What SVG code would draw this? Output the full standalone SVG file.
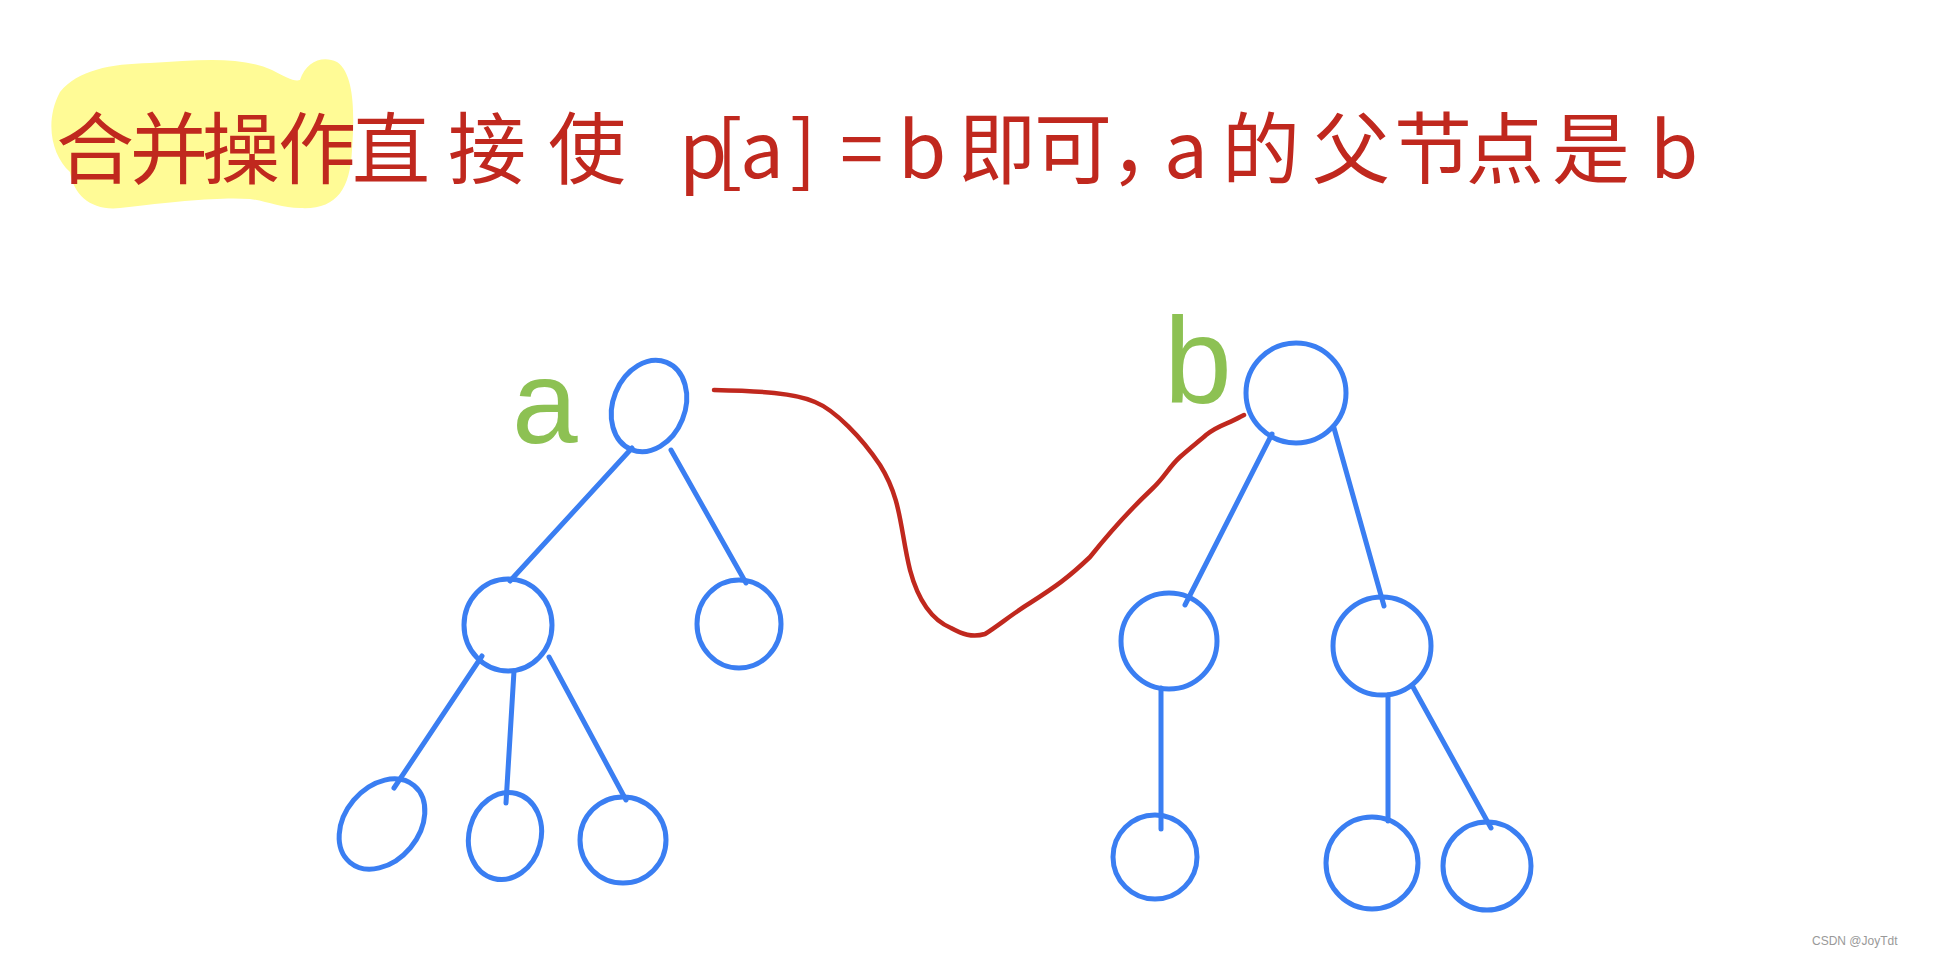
<svg xmlns="http://www.w3.org/2000/svg" width="1937" height="957" viewBox="0 0 1937 957">
<style>
.nd{fill:none;stroke:#3a7ef2;stroke-width:5}
.ed{stroke:#3a7ef2;stroke-width:5;stroke-linecap:round;fill:none}
.lbl{fill:#8dc153;font-family:"Liberation Sans",sans-serif}
.title{fill:#c0281e;font-family:"Noto Sans CJK SC","Noto Sans",sans-serif;font-size:78px}
</style>
<rect width="1937" height="957" fill="#ffffff"/>
<g id="title">
<path d="M60,92 C78,70 110,64 150,63 C200,60 240,56 272,70 C286,77 294,82 300,80 C306,62 322,55 337,62 C356,75 354,120 352,150 C350,190 336,210 300,208 C282,208 266,201 250,199 C220,197 180,201 120,208 C92,211 74,196 70,172 C52,156 44,122 60,92 Z" fill="#fffb96"/>
<text class="title" x="56 130 202 278 352 448 548 679 716 740 790 840 898 958 1034 1110 1164 1222 1312 1394 1466 1552 1650" y="178">合并操作直接使p[a]=b即可，a的父节点是b</text>
</g>
<g id="connectors">
<line class="ed" x1="632" y1="448" x2="510" y2="581"/>
<line class="ed" x1="671" y1="450" x2="746" y2="583"/>
<line class="ed" x1="482" y1="656" x2="394" y2="788"/>
<line class="ed" x1="514" y1="671" x2="506" y2="803"/>
<line class="ed" x1="549" y1="657" x2="626" y2="800"/>
<line class="ed" x1="1272" y1="434" x2="1185" y2="605"/>
<line class="ed" x1="1334" y1="428" x2="1384" y2="606"/>
<line class="ed" x1="1161" y1="688" x2="1161" y2="829"/>
<line class="ed" x1="1388" y1="695" x2="1388" y2="821"/>
<line class="ed" x1="1413" y1="687" x2="1491" y2="828"/>
<path id="merge" d="M714,390 C760,391 795,393 815,402 C835,410 862,438 880,465 C902,500 900,530 910,570 C918,600 932,620 951,628 C962,634 972,638 985,634 C998,626 1012,614 1030,603 C1055,587 1068,578 1090,557 C1110,532 1135,505 1152,489 C1165,477 1168,468 1180,457 C1190,448 1198,442 1206,435 C1218,425 1228,424 1240,417 L1244,415" fill="none" stroke="#c0281e" stroke-width="4.5" stroke-linecap="round"/>
</g>
<g id="node-a">
<ellipse class="nd" cx="649" cy="406" rx="36" ry="47" transform="rotate(22 649 406)"/>
<text class="lbl" x="512" y="443" font-size="118">a</text>
</g>
<g id="node-a1"><ellipse class="nd" cx="508" cy="625" rx="44" ry="46"/></g>
<g id="node-a2"><ellipse class="nd" cx="739" cy="624" rx="42" ry="44"/></g>
<g id="node-a11"><ellipse class="nd" cx="382" cy="824" rx="37" ry="50" transform="rotate(40 382 824)"/></g>
<g id="node-a12"><ellipse class="nd" cx="505" cy="836" rx="36" ry="44" transform="rotate(15 505 836)"/></g>
<g id="node-a13"><ellipse class="nd" cx="623" cy="840" rx="43" ry="43"/></g>
<g id="node-b">
<circle class="nd" cx="1296" cy="393" r="50"/>
<text class="lbl" x="1164" y="403" font-size="122">b</text>
</g>
<g id="node-b1"><circle class="nd" cx="1169" cy="641" r="48"/></g>
<g id="node-b2"><circle class="nd" cx="1382" cy="646" r="49"/></g>
<g id="node-b11"><circle class="nd" cx="1155" cy="857" r="42"/></g>
<g id="node-b21"><circle class="nd" cx="1372" cy="863" r="46"/></g>
<g id="node-b22"><circle class="nd" cx="1487" cy="866" r="44"/></g>
<text x="1812" y="945" font-family="Liberation Sans,sans-serif" font-size="12" fill="#999">CSDN @JoyTdt</text>
</svg>
